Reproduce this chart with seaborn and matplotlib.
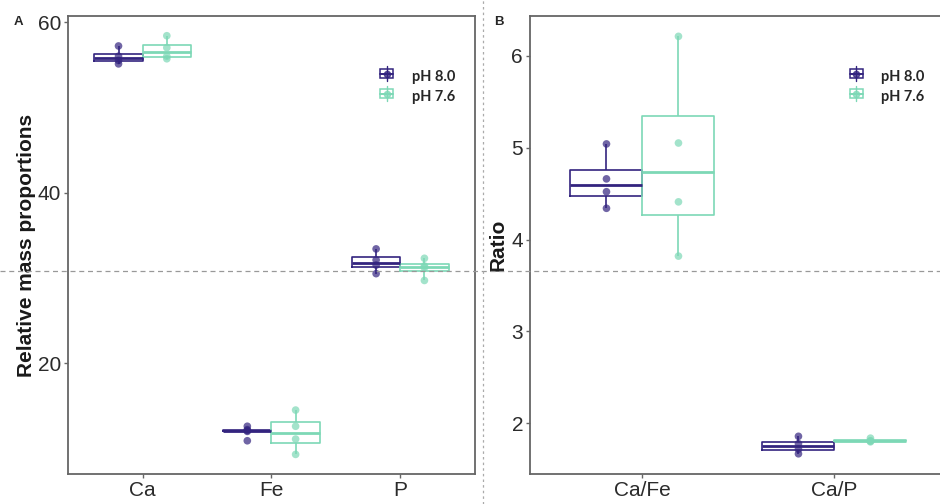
import numpy as np
import pandas as pd
import seaborn as sns
import matplotlib.pyplot as plt
from matplotlib.lines import Line2D
from matplotlib.patches import Rectangle
from matplotlib.legend_handler import HandlerBase

# panel A: relative mass proportions
elements = ["Ca", "Fe", "P"]
ca_80 = [55.1, 55.5, 56.0, 57.2]
ca_76 = [55.7, 56.0, 57.0, 58.4]
fe_80 = [10.9, 12.0, 12.1, 12.2, 12.6]
fe_76 = [9.3, 11.1, 12.6, 14.5]
p_80 = [30.5, 31.5, 32.1, 33.4]
p_76 = [29.7, 31.2, 31.4, 32.3]

# panel B: ratios
ratios = ["Ca/Fe", "Ca/P"]
cafe_80 = [4.34, 4.52, 4.66, 5.04]
cafe_76 = [3.82, 4.41, 5.05, 6.21]
cap_80 = [1.67, 1.72, 1.78, 1.86]
cap_76 = [1.80, 1.81, 1.81, 1.84]

groups = ["pH 8.0", "pH 7.6"]
colors = {"pH 8.0": "#33247f", "pH 7.6": "#7dd8b6"}


def long_df(cats, series):
    rows = []
    for cat, (v80, v76) in zip(cats, series):
        rows += [(cat, "pH 8.0", v) for v in v80]
        rows += [(cat, "pH 7.6", v) for v in v76]
    return pd.DataFrame(rows, columns=["cat", "pH", "value"])


dfA = long_df(elements, [(ca_80, ca_76), (fe_80, fe_76), (p_80, p_76)])
dfB = long_df(ratios, [(cafe_80, cafe_76), (cap_80, cap_76)])


class BoxHandle(HandlerBase):
    def create_artists(self, legend, orig, xd, yd, w, h, fs, trans):
        c = orig.get_color()
        box = Rectangle((xd + 0.05 * w, yd + 0.15 * h), 0.9 * w, 0.7 * h,
                        fill=False, ec=c, lw=1.1, transform=trans)
        med = Line2D([xd + 0.05 * w, xd + 0.95 * w], [yd + h / 2] * 2,
                     color=c, lw=1.4, transform=trans)
        wh = Line2D([xd + w / 2] * 2, [yd - 0.1 * h, yd + 1.1 * h],
                    color=c, lw=1.0, transform=trans)
        pt = Line2D([xd + w / 2], [yd + h / 2], marker="o", ms=4.5, color=c,
                    alpha=0.75, transform=trans)
        return [box, med, wh, pt]


sns.set_style("white")
plt.rcParams["font.family"] = ["Liberation Sans", "DejaVu Sans"]

fig = plt.figure(figsize=(9.4, 5.04), dpi=100)
axA = fig.add_axes([0.0723, 0.0595, 0.433, 0.9085])
axB = fig.add_axes([0.5638, 0.0595, 0.4436, 0.9085])


def draw(ax, df, order):
    sns.boxplot(data=df, x="cat", y="value", hue="pH", order=order,
                hue_order=groups, palette=colors, fill=False, width=0.75,
                gap=0, showcaps=False, showfliers=False, linewidth=1.2,
                medianprops={"linewidth": 2.0}, legend=False, ax=ax)
    sns.stripplot(data=df, x="cat", y="value", hue="pH", order=order,
                  hue_order=groups, palette=colors, dodge=True, jitter=False,
                  size=5.5, alpha=0.7, linewidth=0, legend=False, ax=ax)
    # bring the dodged points onto the narrower box centres
    for coll in ax.collections:
        off = np.asarray(coll.get_offsets(), dtype=float)
        if len(off):
            c = np.round(off[:, 0])
            off[:, 0] = c + (off[:, 0] - c) * 0.75 / 0.8
            coll.set_offsets(off)
    for s in ax.spines.values():
        s.set_color("#666666")
        s.set_linewidth(1.3)
    ax.tick_params(axis="both", labelsize=15, labelcolor="#2b2b2b",
                   color="#666666", length=3, width=1, pad=2,
                   left=True, bottom=True)
    ax.set_xlabel("")
    handles = [Line2D([], [], color=colors[g]) for g in groups]
    ax.legend(handles, groups, handler_map={Line2D: BoxHandle()},
              loc="upper left", bbox_to_anchor=(0.766, 0.883), frameon=False,
              borderpad=0, borderaxespad=0, handlelength=0.95,
              handleheight=0.9, handletextpad=1.25, labelspacing=0.4,
              prop={"family": "Lato", "weight": "bold", "size": 10.5})


draw(axA, dfA, elements)
axA.set_xlim(-0.58, 2.58)
axA.set_ylim(7.0, 60.7)
axA.set_yticks([20, 40, 60])
axA.set_ylabel("Relative mass proportions", fontsize=15, fontweight="bold",
               color="#1a1a1a", labelpad=1)

draw(axB, dfB, ratios)
axB.set_xlim(-0.586, 1.586)
axB.set_ylim(1.45, 6.43)
axB.set_yticks([2, 3, 4, 5, 6])
axB.set_ylabel("Ratio", fontsize=15, fontweight="bold", color="#1a1a1a",
               labelpad=3)

# page guides across the figure
fig.add_artist(Line2D([0, 1], [0.4623, 0.4623], transform=fig.transFigure,
                      color="#999999", lw=0.9, ls=(0, (4, 3))))
fig.add_artist(Line2D([0.5138, 0.5138], [0, 1], transform=fig.transFigure,
                      color="#aaaaaa", lw=0.9, ls=(0, (2, 2.5))))

fig.text(0.0149, 0.956, "A", fontsize=9.5, fontweight="bold", va="center")
fig.text(0.526, 0.956, "B", fontsize=9.5, fontweight="bold", va="center")

fig.savefig("out.png", dpi=100)
